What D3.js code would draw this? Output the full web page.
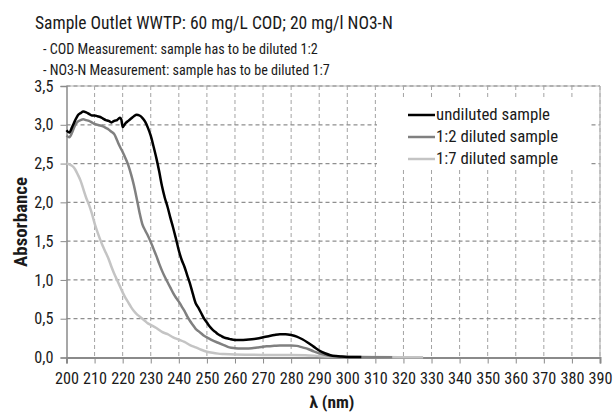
<!DOCTYPE html>
<html><head><meta charset="utf-8">
<script src="https://cdn.jsdelivr.net/npm/d3@7"></script>
<style>html,body{margin:0;padding:0;background:#fff;}svg{display:block;}</style>
</head><body>
<svg id="chart" width="613" height="412"></svg>
<script>
const titleText = "Sample Outlet WWTP: 60 mg/L COD; 20 mg/l NO3-N";
const subtitleLines = ["- COD Measurement: sample has to be diluted 1:2", "- NO3-N Measurement: sample has to be diluted 1:7"];
const xLabel = "λ (nm)";
const yLabel = "Absorbance";
const seriesNames = ["undiluted sample", "1:2 diluted sample", "1:7 diluted sample"];
const seriesColors = ["#000000", "#808080", "#c4c4c4"];
const xTicks = [200,210,220,230,240,250,260,270,280,290,300,310,320,330,340,350,360,370,380,390];
const yTicks = [0,0.5,1,1.5,2,2.5,3,3.5];

const undilutedNm = [200,201,202,203,204,205,206,207,208,209,210,211,212,213,214,215,216,217,218,219,219.5,220,221,222,223,224,225,226,227,228,229,230,231,232,233,234,235,236,237,238,239,240,241,242,243,244,245,246,247,248,249,250,251,252,253,254,255,256,258,260,262,264,266,268,270,272,274,276,278,280,282,284,286,288,290,292,294,296,298,300,305];
const undilutedAbs = [2.93,2.90,2.97,3.05,3.12,3.15,3.17,3.16,3.14,3.12,3.12,3.11,3.10,3.08,3.06,3.05,3.03,3.05,3.06,3.09,3.07,2.97,3.02,3.05,3.08,3.11,3.13,3.12,3.09,3.04,2.96,2.86,2.72,2.57,2.40,2.21,2.06,1.94,1.80,1.67,1.53,1.38,1.26,1.17,1.06,0.95,0.82,0.70,0.64,0.57,0.50,0.45,0.40,0.36,0.33,0.30,0.28,0.26,0.24,0.225,0.225,0.228,0.235,0.245,0.26,0.275,0.29,0.30,0.30,0.29,0.27,0.235,0.19,0.14,0.09,0.055,0.03,0.018,0.012,0.008,0.005];

const dil2Nm = [200,201,202,203,204,205,206,207,208,209,210,211,212,213,214,215,216,217,218,219,220,221,222,223,224,225,226,227,228,229,230,231,232,233,234,235,236,237,238,239,240,241,242,243,244,245,246,247,248,249,250,252,254,256,258,260,262,264,266,268,270,272,274,276,278,280,282,284,286,288,290,292,294,296,300,316];
const dil2Abs = [2.86,2.84,2.90,2.99,3.04,3.06,3.07,3.06,3.05,3.03,3.01,3.00,2.99,2.98,2.96,2.94,2.91,2.88,2.80,2.72,2.65,2.57,2.48,2.36,2.22,2.05,1.87,1.72,1.64,1.57,1.49,1.40,1.31,1.21,1.12,1.04,0.97,0.90,0.83,0.77,0.72,0.66,0.60,0.53,0.47,0.42,0.37,0.34,0.31,0.28,0.26,0.22,0.19,0.16,0.13,0.12,0.115,0.115,0.12,0.13,0.14,0.145,0.15,0.155,0.155,0.155,0.15,0.13,0.11,0.08,0.055,0.035,0.02,0.012,0.007,0.004];

const dil7Nm = [200,201,202,203,204,205,206,207,208,209,210,211,212,213,214,215,216,217,218,219,220,221,222,223,224,225,226,227,228,229,230,232,234,236,238,240,242,244,246,248,250,252,254,256,260,265,270,280,285,290,295,300,310,327];
const dil7Abs = [2.50,2.49,2.47,2.43,2.36,2.28,2.17,2.06,1.97,1.86,1.73,1.62,1.52,1.43,1.35,1.27,1.17,1.08,1.00,0.92,0.84,0.77,0.71,0.65,0.60,0.56,0.53,0.50,0.47,0.44,0.42,0.38,0.33,0.30,0.26,0.23,0.20,0.16,0.13,0.10,0.075,0.06,0.05,0.045,0.038,0.035,0.033,0.032,0.03,0.02,0.012,0.008,0.005,0.004];

const seriesNm = [undilutedNm, dil2Nm, dil7Nm];
const seriesAbs = [undilutedAbs, dil2Abs, dil7Abs];

const FONT = "'Roboto Condensed', 'Liberation Sans', sans-serif";
const svg = d3.select("#chart");
const m = {left: 66.5, right: 600, top: 86, bottom: 357.5};
const x = d3.scaleLinear().domain([200, 390]).range([m.left, m.right]);
const y = d3.scaleLinear().domain([0, 3.5]).range([m.bottom, m.top]);

function fitSize(txt, target, weight) {
  const tmp = svg.append("text").style("font-family", FONT).style("font-size", "20px")
    .style("font-weight", weight || "normal").text(txt);
  const w = tmp.node().getComputedTextLength();
  tmp.remove();
  return 20 * target / w;
}

// Title
svg.append("text").attr("x", 35).attr("y", 29).attr("fill", "#1a1a1a")
  .style("font-family", FONT).style("font-size", fitSize(titleText, 358) + "px").text(titleText);
const subY = [54, 75];
const subSize = fitSize(subtitleLines[0], 275);
subtitleLines.forEach((s, i) => {
  svg.append("text").attr("x", 43).attr("y", subY[i]).attr("fill", "#1a1a1a")
    .style("font-family", FONT).style("font-size", subSize + "px").text(s);
});

// Grid
const grid = svg.append("g");
grid.selectAll("line.v").data(xTicks.slice(1)).join("line")
  .attr("x1", d => x(d)).attr("x2", d => x(d)).attr("y1", m.top).attr("y2", m.bottom)
  .attr("stroke", "#a3a3a3").attr("stroke-width", 1).attr("stroke-dasharray", "4,3");
grid.selectAll("line.h").data(yTicks.slice(1)).join("line")
  .attr("x1", m.left).attr("x2", m.right).attr("y1", d => y(d)).attr("y2", d => y(d))
  .attr("stroke", "#8f8f8f").attr("stroke-width", 1.3).attr("stroke-dasharray", "4,3");

// Border top/right
svg.append("line").attr("x1", m.left).attr("x2", m.right).attr("y1", m.top).attr("y2", m.top)
  .attr("stroke", "#b5b5b5").attr("stroke-width", 1.2);
svg.append("line").attr("x1", m.right).attr("x2", m.right).attr("y1", m.top).attr("y2", m.bottom)
  .attr("stroke", "#b5b5b5").attr("stroke-width", 1.2);

// Legend background
svg.append("rect").attr("x", 377).attr("y", 100).attr("width", 214).attr("height", 70).attr("fill", "#fff");

// Axes
const tickSize = fitSize("200", 24);
const xAxis = d3.axisBottom(x).tickValues(xTicks).tickSize(6).tickFormat(d3.format("d"));
const gx = svg.append("g").attr("transform", `translate(0,${m.bottom})`).call(xAxis);
gx.select(".domain").attr("stroke", "#8a8a8a").attr("stroke-width", 2);
gx.selectAll(".tick line").attr("stroke", "#8a8a8a");
gx.selectAll(".tick text").attr("fill", "#1a1a1a").attr("dy", 0).attr("y", 26)
  .style("font-family", FONT).style("font-size", tickSize + "px");

const fmt = d => d.toFixed(1).replace(".", ",");
const yAxis = d3.axisLeft(y).tickValues(yTicks).tickSize(6).tickFormat(fmt);
const gy = svg.append("g").attr("transform", `translate(${m.left},0)`).call(yAxis);
gy.select(".domain").attr("stroke", "#8a8a8a").attr("stroke-width", 1.5);
gy.selectAll(".tick line").attr("stroke", "#8a8a8a");
gy.selectAll(".tick text").attr("fill", "#1a1a1a").attr("x", -13)
  .style("font-family", FONT).style("font-size", tickSize + "px");

// Axis titles
svg.append("text").attr("x", 332).attr("y", 408).attr("text-anchor", "middle")
  .attr("fill", "#1a1a1a").style("font-family", FONT).style("font-weight", "bold")
  .style("font-size", fitSize(xLabel, 45, "bold") + "px").text(xLabel);
svg.append("text").attr("transform", "translate(27,222) rotate(-90)").attr("text-anchor", "middle")
  .attr("fill", "#1a1a1a").style("font-family", FONT).style("font-weight", "bold")
  .style("font-size", fitSize(yLabel, 90, "bold") + "px").text(yLabel);

// Lines
const line = d3.line().x(d => x(d[0])).y(d => y(d[1])).curve(d3.curveMonotoneX);
[2, 1, 0].forEach(i => {
  const pts = seriesNm[i].map((n, j) => [n, seriesAbs[i][j]]);
  svg.append("path").datum(pts).attr("d", line).attr("fill", "none")
    .attr("stroke", seriesColors[i]).attr("stroke-width", 2.5).attr("stroke-linejoin", "round");
});

// Legend
const legY = [115, 137, 159];
const legSize = fitSize(seriesNames[0], 114);
seriesNames.forEach((name, i) => {
  svg.append("line").attr("x1", 408).attr("x2", 435).attr("y1", legY[i]).attr("y2", legY[i])
    .attr("stroke", seriesColors[i]).attr("stroke-width", 2.5);
  svg.append("text").attr("x", 436).attr("y", legY[i] + 5).attr("fill", "#1a1a1a")
    .style("font-family", FONT).style("font-size", legSize + "px").text(name);
});
</script>
</body></html>
